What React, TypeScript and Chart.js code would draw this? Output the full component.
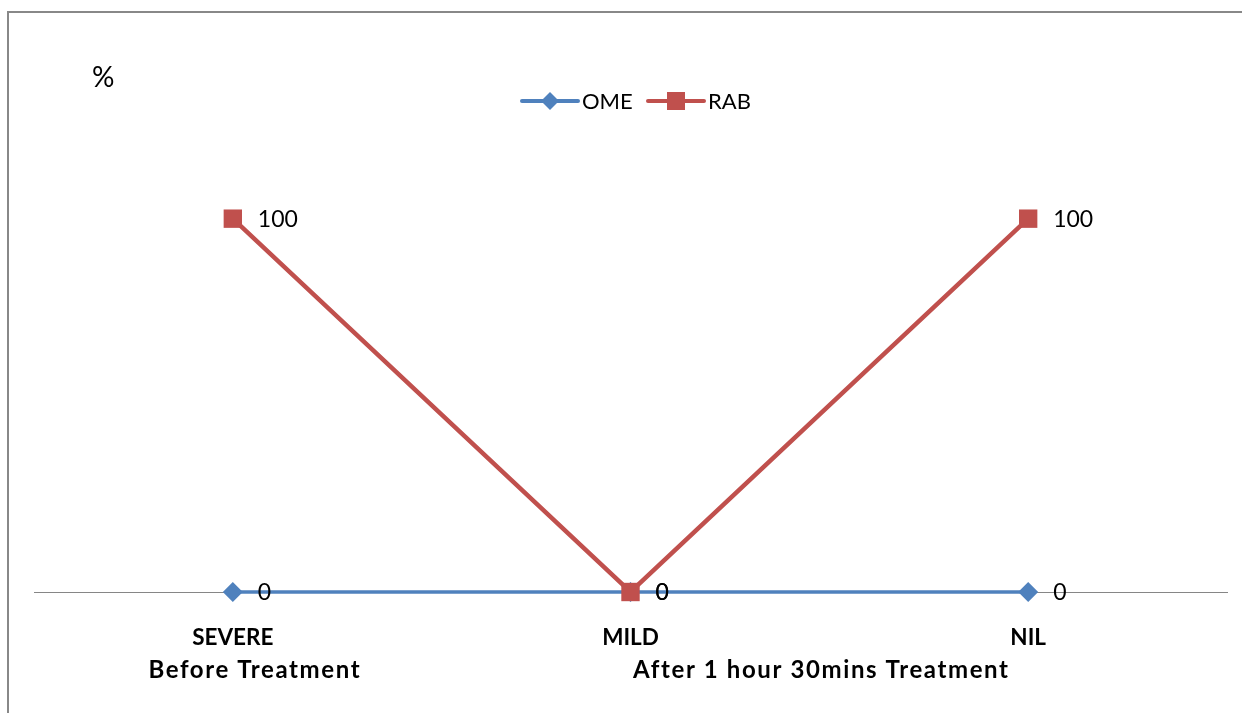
import React, { useEffect, useRef } from "react";
import { Chart, registerables } from "chart.js";

Chart.register(...registerables);

const categories = ["SEVERE", "MILD", "NIL"];
const omeValues = [0, 0, 0];
const rabValues = [100, 0, 100];
const groupLabels = ["Before Treatment", "After 1 hour 30mins Treatment"];
const groupSpans = [[0, 0], [1, 2]];
const yUnit = "%";

const FONT = 'Lato, "Liberation Sans", sans-serif';
const BLUE = "#4F81BD";
const RED = "#C0504D";

const decorPlugin = {
  id: "decor",
  afterDatasetsDraw(chart: any) {
    const ctx = chart.ctx;
    const x = chart.scales.x;
    ctx.save();
    // data labels
    ctx.font = `23px ${FONT}`;
    ctx.fillStyle = "#000";
    ctx.textBaseline = "middle";
    ctx.textAlign = "left";
    chart.data.datasets.forEach((ds: any, i: number) => {
      const meta = chart.getDatasetMeta(i);
      meta.data.forEach((pt: any, j: number) => {
        ctx.fillText(String(ds.data[j]), pt.x + 25, pt.y + 1);
      });
    });
    // group labels
    ctx.font = `bold 24px ${FONT}`;
    (ctx as any).letterSpacing = "1.6px";
    ctx.textAlign = "center";
    const adj = [22, -8];
    groupLabels.forEach((lab, g) => {
      const [a, b] = groupSpans[g];
      const cx = (x.getPixelForValue(a) + x.getPixelForValue(b)) / 2 + adj[g];
      ctx.fillText(lab, cx, 670);
    });
    (ctx as any).letterSpacing = "0px";
    // unit label
    ctx.font = `28px ${FONT}`;
    ctx.textAlign = "left";
    ctx.fillText(yUnit, 92, 78);
    // legend
    const items = [
      { label: "OME", color: BLUE, style: "diamond", x0: 522 },
      { label: "RAB", color: RED, style: "square", x0: 648 },
    ];
    const ly = 101;
    ctx.font = `22px ${FONT}`;
    items.forEach((it) => {
      ctx.strokeStyle = it.color;
      ctx.fillStyle = it.color;
      ctx.lineWidth = 4;
      ctx.lineCap = "round";
      ctx.beginPath();
      ctx.moveTo(it.x0, ly);
      ctx.lineTo(it.x0 + 56, ly);
      ctx.stroke();
      const mx = it.x0 + 28;
      if (it.style === "diamond") {
        ctx.beginPath();
        ctx.moveTo(mx, ly - 9);
        ctx.lineTo(mx + 9, ly);
        ctx.lineTo(mx, ly + 9);
        ctx.lineTo(mx - 9, ly);
        ctx.closePath();
        ctx.fill();
      } else {
        ctx.fillRect(mx - 9, ly - 9, 18, 18);
      }
      ctx.fillStyle = "#000";
      ctx.textAlign = "left";
      ctx.fillText(it.label, it.x0 + 60, ly + 1);
    });
    // outer border
    ctx.strokeStyle = "#888888";
    ctx.lineWidth = 2;
    ctx.beginPath();
    ctx.moveTo(8, 713);
    ctx.lineTo(8, 12);
    ctx.lineTo(1242, 12);
    ctx.stroke();
    ctx.restore();
  },
};

export default function App() {
  const ref = useRef<HTMLCanvasElement | null>(null);
  useEffect(() => {
    if (!ref.current) return;
    const chart = new Chart(ref.current, {
      type: "line",
      data: {
        labels: categories,
        datasets: [
          {
            label: "RAB",
            data: rabValues,
            borderColor: RED,
            backgroundColor: RED,
            borderWidth: 4.5,
            pointStyle: "rect",
            pointRadius: 13,
            pointBorderWidth: 0,
            tension: 0,
            order: 0,
            clip: false,
          },
          {
            label: "OME",
            data: omeValues,
            borderColor: BLUE,
            backgroundColor: BLUE,
            borderWidth: 3.5,
            pointStyle: "rectRot",
            pointRadius: 10,
            pointBorderWidth: 0,
            tension: 0,
            order: 1,
            clip: false,
          },
        ],
      },
      options: {
        responsive: false,
        animation: false,
        layout: { padding: { left: 34, right: 15, top: 144, bottom: 0 } },
        plugins: { legend: { display: false }, tooltip: { enabled: false } },
        scales: {
          x: {
            offset: true,
            grid: { display: false, drawTicks: false },
            border: { display: true, color: "#868686", width: 1 },
            ticks: {
              color: "#000",
              font: { family: FONT, size: 22.5, weight: "bold" },
              padding: 32,
              maxRotation: 0,
            },
            afterFit: (s: any) => {
              s.height = 121;
            },
          },
          y: { display: false, min: 0, max: 120 },
        },
      },
      plugins: [decorPlugin],
    });
    return () => chart.destroy();
  }, []);
  return (
    <div style={{ position: "absolute", left: 0, top: 0, width: 1242, height: 713, background: "#fff" }}>
      <canvas ref={ref} width={1242} height={713} style={{ display: "block" }} />
    </div>
  );
}
